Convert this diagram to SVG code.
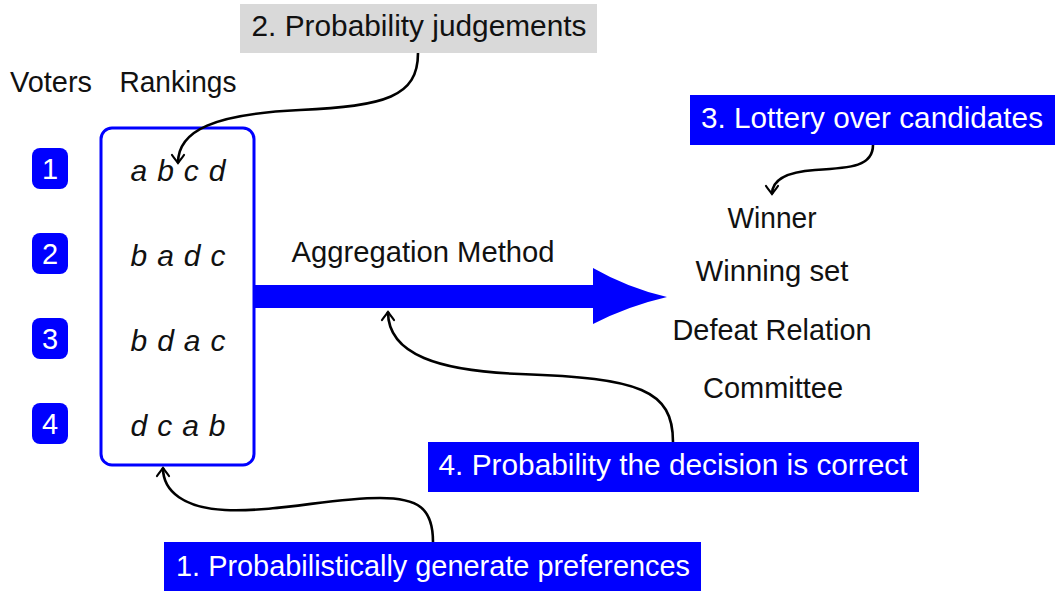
<svg xmlns="http://www.w3.org/2000/svg" width="1055" height="591" viewBox="0 0 1055 591">
<style>
text{font-family:"Liberation Sans","DejaVu Sans",sans-serif;font-size:29px;fill:#111}
.w{fill:#fff}
.c{text-anchor:middle}
.it{font-style:italic;font-size:30px}
.badge{fill:#0000ff}
.lbl{fill:#0000ff}
.conn{fill:none;stroke:#000;stroke-width:2.6;marker-end:url(#to)}
</style>
<defs>
<marker id="to" markerUnits="userSpaceOnUse" viewBox="-10 -8 12 16" refX="0" refY="0" markerWidth="12" markerHeight="16" orient="auto" overflow="visible">
<path d="M-8,-6 C-5,-4 -2,-1.5 0,0 C-2,1.5 -5,4 -8,6" fill="none" stroke="#000" stroke-width="2.2" stroke-linecap="round"/>
</marker>
</defs>
<rect width="1055" height="591" fill="#fff"/>
<g id="headers">
<text x="51" y="92" class="c" textLength="82" lengthAdjust="spacingAndGlyphs">Voters</text>
<text x="178" y="92" class="c" textLength="117" lengthAdjust="spacingAndGlyphs">Rankings</text>
</g>
<g id="voter1"><rect class="badge" x="32" y="148" width="36" height="41" rx="8"/><text class="w c" x="50" y="179">1</text></g>
<g id="voter2"><rect class="badge" x="32" y="233" width="36" height="41" rx="8"/><text class="w c" x="50" y="264">2</text></g>
<g id="voter3"><rect class="badge" x="32" y="318" width="36" height="41" rx="8"/><text class="w c" x="50" y="349">3</text></g>
<g id="voter4"><rect class="badge" x="32" y="403" width="36" height="41" rx="8"/><text class="w c" x="50" y="434">4</text></g>
<g id="rankings">
<rect x="101" y="128" width="153" height="337" rx="11" fill="none" stroke="#0000ff" stroke-width="3"/>
<text class="it c" x="178" y="181" textLength="95" lengthAdjust="spacing">a b c d</text>
<text class="it c" x="178" y="266" textLength="95" lengthAdjust="spacing">b a d c</text>
<text class="it c" x="178" y="351" textLength="95" lengthAdjust="spacing">b d a c</text>
<text class="it c" x="178" y="436" textLength="95" lengthAdjust="spacing">d c a b</text>
</g>
<g id="aggregation">
<rect x="254" y="285" width="341" height="23" fill="#0000ff"/>
<path d="M593,268 Q628,288 667,297 Q628,306 593,324 Z" fill="#0000ff"/>
<text x="423" y="262" class="c" textLength="263" lengthAdjust="spacingAndGlyphs">Aggregation Method</text>
</g>
<g id="outcomes">
<text x="772" y="228" class="c" textLength="89" lengthAdjust="spacingAndGlyphs">Winner</text>
<text x="772" y="281" class="c" textLength="153" lengthAdjust="spacingAndGlyphs">Winning set</text>
<text x="772" y="340" class="c" textLength="199" lengthAdjust="spacingAndGlyphs">Defeat Relation</text>
<text x="773" y="398" class="c" textLength="140" lengthAdjust="spacingAndGlyphs">Committee</text>
</g>
<g id="label2">
<rect x="240" y="4" width="357" height="49" fill="#d9d9d9"/>
<text x="419" y="36" class="c" textLength="335" lengthAdjust="spacingAndGlyphs">2. Probability judgements</text>
</g>
<g id="label3">
<rect class="lbl" x="690" y="95" width="365" height="50"/>
<text x="872" y="128" class="w c" textLength="342" lengthAdjust="spacingAndGlyphs">3. Lottery over candidates</text>
</g>
<g id="label4">
<rect class="lbl" x="428" y="442" width="491" height="50"/>
<text x="673" y="475" class="w c" textLength="469" lengthAdjust="spacingAndGlyphs">4. Probability the decision is correct</text>
</g>
<g id="label1">
<rect class="lbl" x="164" y="542" width="537" height="49"/>
<text x="433" y="576" class="w c" textLength="514" lengthAdjust="spacingAndGlyphs">1. Probabilistically generate preferences</text>
</g>
<g id="connectors">
<path class="conn" d="M418,53 C418,97 385,106 300,110 C215,114 178,130 178,163"/>
<path class="conn" d="M873,145 C873,166 852,168 815,170 C785,172 772,180 772,194"/>
<path class="conn" d="M673,442 C673,390 640,378 520,374 C440,371 388,355 388,312"/>
<path class="conn" d="M433,542 C433,508 418,498 380,498 C330,498 280,512 225,510 C185,508 163,492 163,468"/>
</g>
</svg>
